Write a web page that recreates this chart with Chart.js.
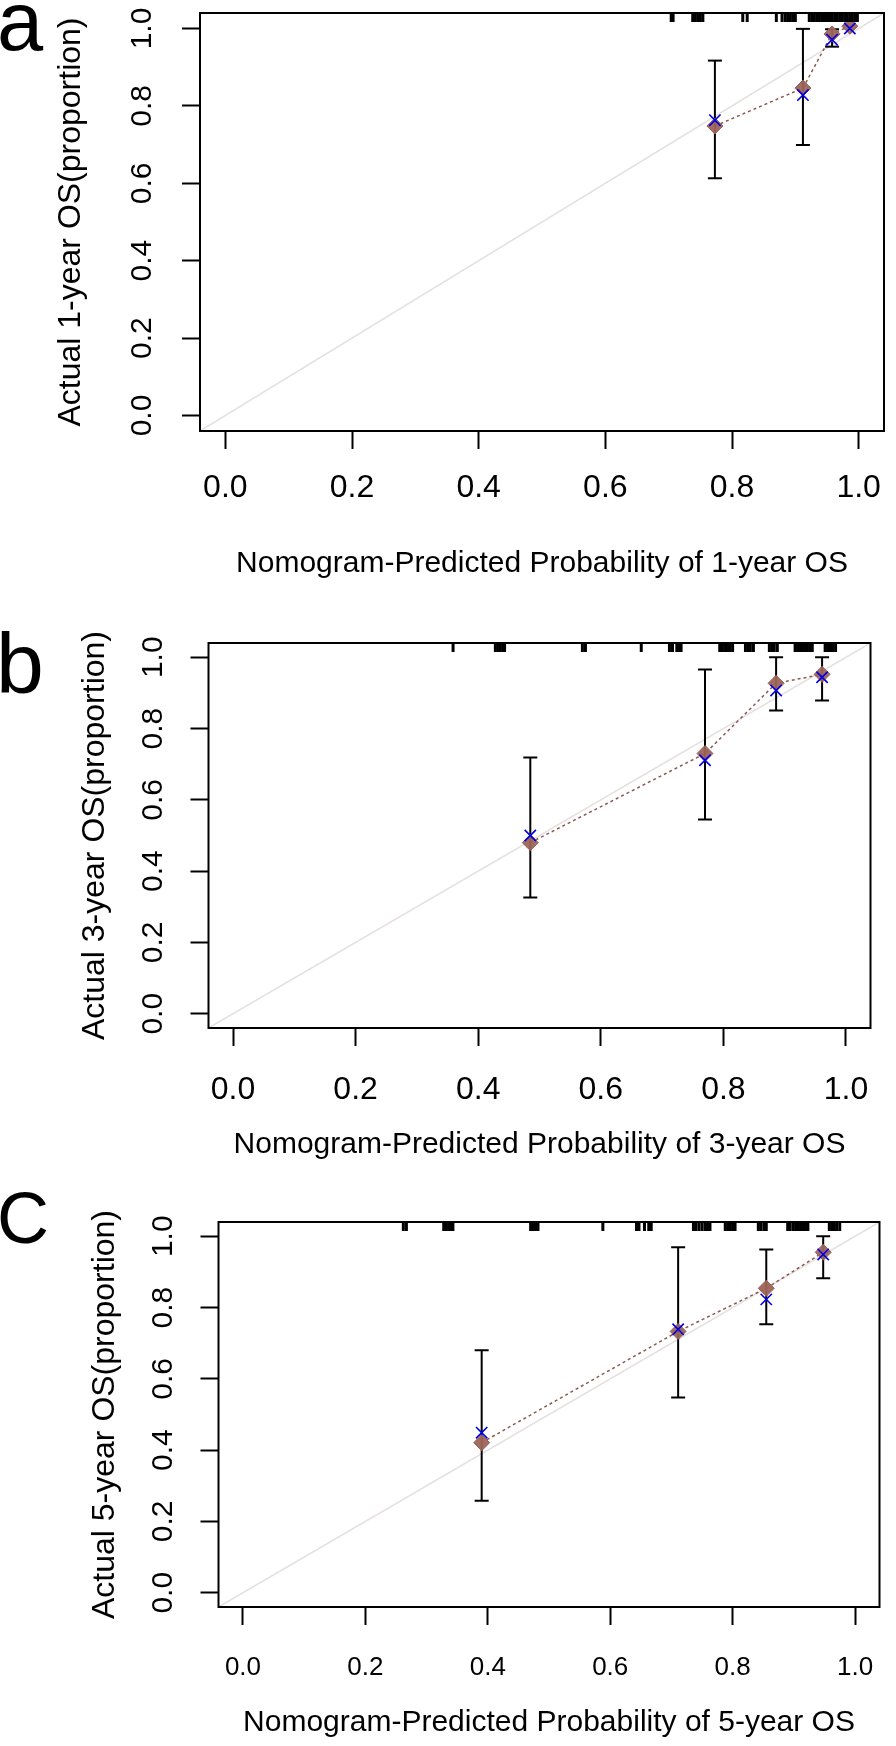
<!DOCTYPE html>
<html>
<head>
<meta charset="utf-8">
<script src="https://cdn.jsdelivr.net/npm/chart.js@4.4.1/dist/chart.umd.min.js"></script>
<style>
  body { margin: 0; background: #fff; width: 896px; height: 1746px; position: relative; overflow: hidden; }
  canvas { position: absolute; left: 0; }
  .tag { position: absolute; font-family: 'Liberation Sans', Arial, sans-serif; line-height: 1; color: #000; }
</style>
</head>
<body>
<div class="tag" style="left:-3px; top:-20px; font-size:83px;">a</div>
<div class="tag" style="left:-4px; top:620px; font-size:86px;">b</div>
<div class="tag" style="left:-3px; top:1182px; font-size:72px;">C</div>
<canvas id="chartA" width="896" height="600" style="top:0px"></canvas>
<canvas id="chartB" width="896" height="580" style="top:600px"></canvas>
<canvas id="chartC" width="896" height="566" style="top:1180px"></canvas>
<script>
const tickVals = [0, 0.2, 0.4, 0.6, 0.8, 1.0];
const axisMin = -0.04;
const axisMax = 1.04;

// 1-year OS
const pred1 = [0.773, 0.912, 0.958, 0.986];
const km1 = [0.748, 0.846, 0.986, 1.006];
const corr1 = [0.763, 0.828, 0.971, 1.000];
const lo1 = [0.613, 0.699, 0.953, null];
const hi1 = [0.917, 0.999, 0.998, null];
const rug1 = [0.704, 0.707, 0.738, 0.742, 0.746, 0.750, 0.754, 0.817, 0.824, 0.870, 0.879,
  0.884, 0.888, 0.892, 0.896, 0.900, 0.922, 0.926, 0.930, 0.934, 0.938, 0.942, 0.946, 0.950,
  0.954, 0.958, 0.962, 0.966, 0.970, 0.974, 0.978, 0.982, 0.986, 0.990, 0.994, 0.998];

// 3-year OS
const pred3 = [0.485, 0.770, 0.886, 0.961];
const km3 = [0.480, 0.730, 0.927, 0.952];
const corr3 = [0.500, 0.711, 0.907, 0.944];
const lo3 = [0.326, 0.545, 0.851, 0.879];
const hi3 = [0.719, 0.966, 1.000, 1.000];
const rug3 = [0.359, 0.428, 0.432, 0.436, 0.440, 0.443, 0.570, 0.575, 0.666, 0.712, 0.717,
  0.724, 0.728, 0.731, 0.794, 0.798, 0.802, 0.806, 0.810, 0.815, 0.836, 0.840, 0.844, 0.849,
  0.875, 0.879, 0.883, 0.888, 0.917, 0.921, 0.925, 0.929, 0.933, 0.937, 0.941, 0.945,
  0.966, 0.970, 0.974, 0.978, 0.983];

// 5-year OS
const pred5 = [0.390, 0.711, 0.855, 0.948];
const km5 = [0.421, 0.733, 0.854, 0.955];
const corr5 = [0.449, 0.739, 0.823, 0.949];
const lo5 = [0.258, 0.548, 0.753, 0.882];
const hi5 = [0.680, 0.969, 0.963, 1.000];
const rug5 = [0.262, 0.267, 0.328, 0.332, 0.336, 0.340, 0.343, 0.470, 0.474, 0.478, 0.482,
  0.588, 0.643, 0.647, 0.656, 0.663, 0.667, 0.736, 0.740, 0.745, 0.750, 0.755, 0.759, 0.763,
  0.788, 0.792, 0.796, 0.800, 0.804, 0.842, 0.846, 0.851, 0.855, 0.890, 0.894, 0.899, 0.903,
  0.907, 0.911, 0.915, 0.919, 0.923, 0.958, 0.962, 0.966, 0.970, 0.975];

const fam = "'Liberation Sans', Arial, sans-serif";

// draws the frame round the plot region, like R's box()
const boxPlugin = {
  id: 'box',
  afterDatasetsDraw(chart) {
    const { ctx, chartArea: a } = chart;
    ctx.save();
    ctx.strokeStyle = '#000';
    ctx.lineWidth = 2;
    ctx.strokeRect(a.left, a.top, a.right - a.left, a.bottom - a.top);
    ctx.restore();
  }
};

function xy(xs, ys) {
  return xs.map((x, i) => ({ x: x, y: ys[i] }));
}

function makeChart(id, c) {
  const bars = [];
  c.pred.forEach((x, i) => {
    if (c.lo[i] == null) return;
    bars.push({
      data: [{ x: x, y: c.lo[i] }, { x: x, y: c.hi[i] }],
      showLine: true, borderColor: '#000', borderWidth: 2,
      pointStyle: 'line', pointRadius: 7, pointBorderWidth: 2, pointBorderColor: '#000',
      order: 3
    });
  });

  const datasets = [
    { // ideal line
      data: [{ x: axisMin, y: axisMin }, { x: axisMax, y: axisMax }],
      showLine: true, borderColor: '#e6e0e0', borderWidth: 1.5, pointRadius: 0, clip: 0, order: 5
    },
    { // observed line
      data: xy(c.pred, c.km),
      showLine: true, borderColor: '#8c5a52', borderWidth: 1.5, borderDash: [3, 3], pointRadius: 0, order: 4
    },
    ...bars,
    {
      data: xy(c.pred, c.km),
      pointStyle: 'rectRot', pointRadius: 8, backgroundColor: 'rgba(158,100,88,0.95)',
      borderColor: 'rgba(150,96,88,1)', pointBorderWidth: 1, order: 2
    },
    {
      data: xy(c.pred, c.corr),
      pointStyle: 'crossRot', pointRadius: 8, borderColor: '#0000e6', pointBorderWidth: 1.6, order: 1
    },
    { // rug of predicted risks
      data: c.rug.map(x => ({ x: x, y: axisMax })),
      pointStyle: 'line', rotation: 90, pointRadius: 9, pointBorderWidth: 3,
      borderColor: '#000', pointBorderColor: '#000', clip: 0, order: 0
    }
  ];

  return new Chart(document.getElementById(id), {
    type: 'scatter',
    data: { datasets: datasets },
    plugins: [boxPlugin],
    options: {
      responsive: false,
      animation: false,
      events: [],
      layout: { padding: { left: 0, top: c.padTop, right: c.padRight, bottom: 0 } },
      plugins: { legend: { display: false }, tooltip: { enabled: false } },
      scales: {
        x: {
          type: 'linear', min: axisMin, max: axisMax,
          afterBuildTicks: s => { s.ticks = tickVals.map(v => ({ value: v })); },
          afterFit: s => { s.height = c.xH; s.paddingLeft = 0; s.paddingRight = 0; },
          grid: { drawOnChartArea: false, drawTicks: true, tickLength: 18, tickWidth: 2, tickColor: '#000' },
          border: { display: false },
          ticks: {
            color: '#000', font: { family: fam, size: c.xTickSize }, padding: c.xTickPad,
            maxRotation: 0, autoSkip: false, callback: v => Number(v).toFixed(1)
          },
          title: {
            display: true, text: c.xTitle, color: '#000',
            font: { family: fam, size: 30 }, padding: { top: 0, bottom: c.xTitlePad }
          }
        },
        y: {
          type: 'linear', min: axisMin, max: axisMax,
          afterBuildTicks: s => { s.ticks = tickVals.map(v => ({ value: v })); },
          afterFit: s => { s.width = c.yW; s.paddingTop = 0; s.paddingBottom = 0; },
          grid: { drawOnChartArea: false, drawTicks: true, tickLength: 18, tickWidth: 2, tickColor: '#000' },
          border: { display: false },
          ticks: {
            color: '#000', font: { family: fam, size: 30 }, padding: c.yTickPad,
            minRotation: 90, maxRotation: 90, crossAlign: 'center', autoSkip: false,
            callback: v => Number(v).toFixed(1)
          },
          title: {
            display: true, text: c.yTitle, color: '#000',
            font: { family: fam, size: 32 }, padding: { top: c.yTitlePad, bottom: 0 }
          }
        }
      }
    }
  });
}

makeChart('chartA', {
  pred: pred1, km: km1, corr: corr1, lo: lo1, hi: hi1, rug: rug1,
  xTitle: 'Nomogram-Predicted Probability of 1-year OS', yTitle: 'Actual 1-year OS(proportion)',
  padTop: 13, padRight: 4, xH: 169, yW: 200,
  xTickSize: 32, xTickPad: 20, xTitlePad: 18, yTickPad: 18, yTitlePad: 52
});
makeChart('chartB', {
  pred: pred3, km: km3, corr: corr3, lo: lo3, hi: hi3, rug: rug3,
  xTitle: 'Nomogram-Predicted Probability of 3-year OS', yTitle: 'Actual 3-year OS(proportion)',
  padTop: 43, padRight: 25.5, xH: 152, yW: 208.5,
  xTickSize: 32, xTickPad: 25, xTitlePad: 17, yTickPad: 16, yTitlePad: 76
});
makeChart('chartC', {
  pred: pred5, km: km5, corr: corr5, lo: lo5, hi: hi5, rug: rug5,
  xTitle: 'Nomogram-Predicted Probability of 5-year OS', yTitle: 'Actual 5-year OS(proportion)',
  padTop: 42, padRight: 16.5, xH: 139, yW: 218.5,
  xTickSize: 26, xTickPad: 27, xTitlePad: 5, yTickPad: 16, yTitlePad: 86
});
</script>
</body>
</html>
